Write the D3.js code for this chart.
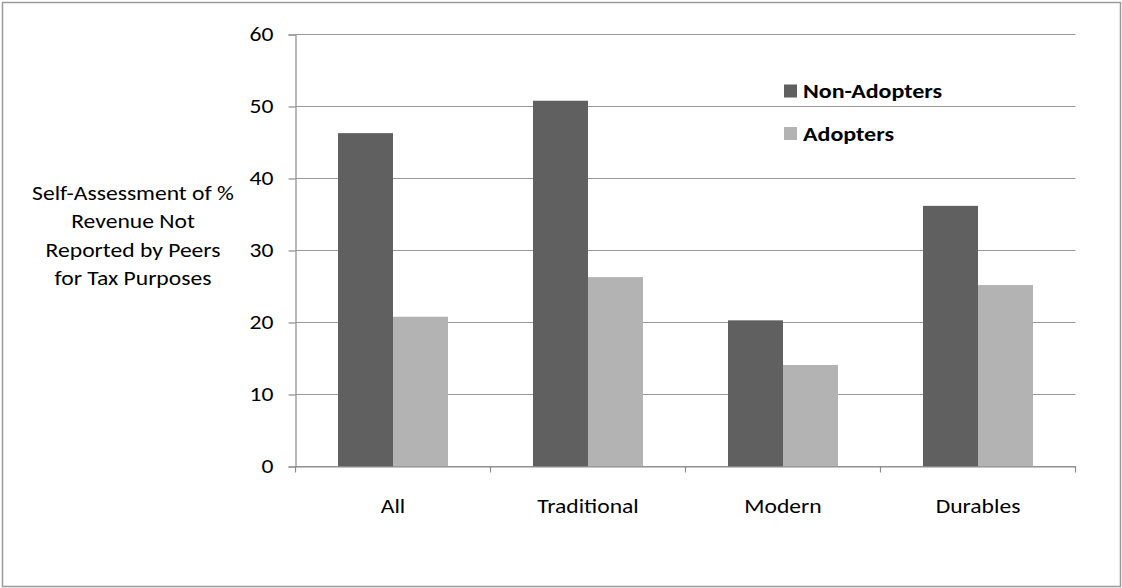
<!DOCTYPE html>
<html>
<head>
<meta charset="utf-8">
<script src="https://cdn.jsdelivr.net/npm/d3@7"></script>
<style>
  html, body { margin: 0; padding: 0; background: #fff; }
  svg { display: block; }
  text { font-family: Carlito, Calibri, "Liberation Sans", Arial, sans-serif; fill: #000; }
</style>
</head>
<body>
<svg id="chart" width="1122" height="588"></svg>
<script>
// Categories and the two groups compared in each
const categories = ["All", "Traditional", "Modern", "Durables"];
const seriesNames = ["Non-Adopters", "Adopters"];
const nonAdopters = [46.3, 50.8, 20.3, 36.2];
const adopters = [20.8, 26.3, 14.1, 25.2];
const yTicks = [0, 10, 20, 30, 40, 50, 60];
const yTitleLines = ["Self-Assessment of %", "Revenue Not", "Reported by Peers", "for Tax Purposes"];

const seriesValues = [nonAdopters, adopters];
const colors = ["#606060", "#b3b3b3"];

const svg = d3.select("#chart");
const W = 1122, H = 588;
const plot = { left: 295.5, right: 1075.5, top: 34.5, bottom: 466.5 };
const FONT = "Carlito, Calibri, 'Liberation Sans', Arial, sans-serif";
const SX = 1.18;          // horizontal stretch of all lettering
const AXIS = "#8c8c8c";

// Outer frame
svg.append("rect")
  .attr("x", 2.5).attr("y", 2.5)
  .attr("width", W - 4).attr("height", H - 4)
  .attr("fill", "#fff").attr("stroke", "#9a9a9a").attr("stroke-width", 1.5);

const y = d3.scaleLinear().domain([0, 60]).range([plot.bottom, plot.top]);
const x0 = d3.scaleBand().domain(categories).range([plot.left, plot.right]).padding(0);
const x1 = d3.scaleBand().domain(seriesNames).range([0, x0.bandwidth()])
  .paddingInner(0).paddingOuter(0.773);

// Horizontal gridlines
svg.append("g")
  .selectAll("line")
  .data(yTicks)
  .join("line")
  .attr("x1", plot.left).attr("x2", plot.right)
  .attr("y1", d => y(d)).attr("y2", d => y(d))
  .attr("stroke", "#999").attr("stroke-width", 1.2);

// Bars
const groups = svg.append("g")
  .selectAll("g")
  .data(categories)
  .join("g")
  .attr("transform", d => `translate(${x0(d)},0)`);

groups.selectAll("rect")
  .data((c, i) => seriesNames.map((s, k) => ({ s, k, v: seriesValues[k][i] })))
  .join("rect")
  .attr("x", d => x1(d.s))
  .attr("width", x1.bandwidth())
  .attr("y", d => y(d.v))
  .attr("height", d => y(0) - y(d.v))
  .attr("fill", d => colors[d.k]);

// Y axis
const yAxis = d3.axisLeft(y).tickValues(yTicks).tickSize(7).tickPadding(15);
const gy = svg.append("g").attr("transform", `translate(${plot.left},0)`).call(yAxis);
gy.select(".domain").attr("stroke", AXIS).attr("stroke-width", 1.2);
gy.selectAll(".tick line").attr("stroke", AXIS).attr("stroke-width", 1.2);
gy.selectAll(".tick text")
  .attr("font-size", 20)
  .style("font-family", FONT)
  .attr("fill", "#000")
  .attr("x", -22 / SX)
  .attr("transform", `scale(${SX},1)`);

// X axis with ticks between categories
const xAxis = d3.axisBottom(x0).tickSize(0).tickPadding(32);
const gx = svg.append("g").attr("transform", `translate(0,${plot.bottom})`).call(xAxis);
gx.select(".domain").attr("stroke", AXIS).attr("stroke-width", 1.2);
gx.selectAll(".tick text")
  .attr("font-size", 20)
  .style("font-family", FONT)
  .attr("fill", "#000")
  .attr("transform", `scale(${SX},1)`);
const boundaries = categories.map(c => x0(c)).concat([x0.range()[1]]);
gx.selectAll(".sep")
  .data(boundaries)
  .join("line")
  .attr("class", "sep")
  .attr("x1", d => d).attr("x2", d => d)
  .attr("y1", 0).attr("y2", 6)
  .attr("stroke", AXIS).attr("stroke-width", 1.2);

// Y axis title
svg.append("text")
  .attr("text-anchor", "middle")
  .attr("font-size", 20)
  .attr("transform", `translate(133,0) scale(${SX},1)`)
  .selectAll("tspan")
  .data(yTitleLines)
  .join("tspan")
  .attr("x", 0)
  .attr("y", (d, i) => 200 + i * 28.3)
  .text(d => d);

// Legend
const legend = svg.append("g").attr("transform", "translate(784,84.5)");
seriesNames.forEach((s, i) => {
  const g = legend.append("g").attr("transform", `translate(0,${i * 42.5})`);
  g.append("rect").attr("width", 13).attr("height", 13).attr("fill", colors[i]);
  g.append("text")
    .attr("transform", `translate(19,13.5) scale(1.2,1)`)
    .attr("font-size", 20).attr("font-weight", "bold").text(s);
});
</script>
</body>
</html>
